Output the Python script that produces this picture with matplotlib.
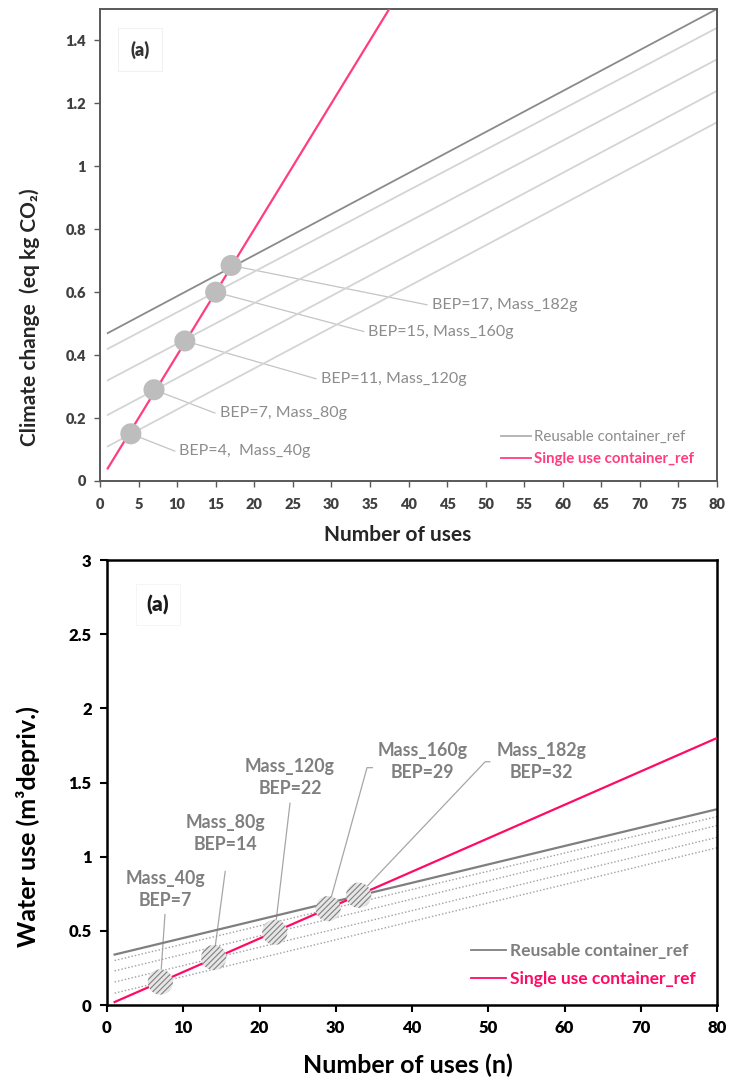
import numpy as np
import matplotlib
matplotlib.use("Agg")
import matplotlib.pyplot as plt

plt.rcParams['font.family'] = ['Lato', 'DejaVu Sans']
plt.rcParams['font.weight'] = 'bold'
plt.rcParams['hatch.linewidth'] = 0.8

# ---- data: climate change panel ----
n_ends = [1, 80]
cc_masses = ['182g', '160g', '120g', '80g', '40g']
cc_reuse_start = [0.47, 0.42, 0.32, 0.21, 0.11]
cc_reuse_end = [1.50, 1.44, 1.34, 1.24, 1.14]
cc_single = [0.04, 3.20]
cc_bep = [17, 15, 11, 7, 4]
cc_bep_val = [0.685, 0.60, 0.445, 0.29, 0.15]
cc_labels = ['BEP=17, Mass_182g', 'BEP=15, Mass_160g', 'BEP=11, Mass_120g',
             'BEP=7, Mass_80g', 'BEP=4,  Mass_40g']
cc_xticks = np.arange(0, 81, 5)
cc_yticks = [0, 0.2, 0.4, 0.6, 0.8, 1.0, 1.2, 1.4]
cc_yticklabels = ['0', '0.2', '0.4', '0.6', '0.8', '1', '1.2', '1.4']

# ---- data: water use panel ----
wu_masses = ['182g', '160g', '120g', '80g', '40g']
wu_reuse_start = [0.34, 0.30, 0.23, 0.155, 0.08]
wu_reuse_end = [1.32, 1.27, 1.21, 1.13, 1.06]
wu_single = [0.02, 1.80]
wu_bep = [33, 29, 22, 14, 7]
wu_bep_val = [0.74, 0.65, 0.49, 0.32, 0.155]
wu_labels = ['Mass_182g\nBEP=32', 'Mass_160g\nBEP=29', 'Mass_120g\nBEP=22',
             'Mass_80g\nBEP=14', 'Mass_40g\nBEP=7']
wu_xticks = np.arange(0, 81, 10)
wu_yticks = [0, 0.5, 1, 1.5, 2, 2.5, 3]
wu_yticklabels = ['0', '0.5', '1', '1.5', '2', '2.5', '3']

pink = '#ff3d80'
pink2 = '#ff0a64'

fig = plt.figure(figsize=(7.29, 10.84), dpi=100)

# ================= top panel =================
ax1 = fig.add_axes([100/729, 1-481/1084, 617/729, 472/1084])
for i in range(len(cc_masses)):
    col = '#8a8a8a' if i == 0 else '#d4d4d4'
    ax1.plot(n_ends, [cc_reuse_start[i], cc_reuse_end[i]], color=col, lw=1.3, zorder=2)
ax1.plot(n_ends, cc_single, color=pink, lw=1.6, zorder=3)
ax1.scatter(cc_bep, cc_bep_val, s=230, color='#bdbdbd', edgecolors='none', zorder=4)

# callout text start positions
cc_txt_pos = [(43.0, 0.56), (34.8, 0.475), (28.6, 0.325), (15.5, 0.216), (10.3, 0.095)]
for (tx, ty), bx, by, lab in zip(cc_txt_pos, cc_bep, cc_bep_val, cc_labels):
    ax1.plot([bx, tx - 0.6], [by, ty], color='#c4c4c4', lw=0.9, zorder=1)
    ax1.text(tx, ty, lab, color='#8c8c8c', fontsize=11.5, fontweight='normal',
             va='center', ha='left')

ax1.text(5.2, 1.371, '(a)', fontsize=13, fontweight='heavy', color='#333333',
         va='center', ha='center',
         bbox=dict(boxstyle='square,pad=0.7', fc='white', ec='#efefef', lw=0.6))

ax1.set_xlim(0, 80)
ax1.set_ylim(0, 1.5)
ax1.set_xticks(cc_xticks, [str(v) for v in cc_xticks], fontweight='heavy')
ax1.set_yticks(cc_yticks, cc_yticklabels, fontweight='heavy')
ax1.tick_params(direction='out', length=4, width=1, colors='#595959',
                labelsize=10.5, labelcolor='#404040')
ax1.tick_params(axis='x', pad=8)
ax1.tick_params(axis='y', pad=6)
for sp in ax1.spines.values():
    sp.set_color('#595959')
    sp.set_linewidth(1.4)
ax1.set_xlabel('Number of uses', fontsize=15, fontweight='bold', color='#262626')
ax1.xaxis.set_label_coords(0.483, -0.093)
ax1.set_ylabel('Climate change  (eq kg CO₂)', fontsize=15, fontweight='bold',
               color='#262626')
ax1.yaxis.set_label_coords(-0.098, 0.347)

h1, = ax1.plot([], [], color='#b0b0b0', lw=1.3)
h2, = ax1.plot([], [], color=pink, lw=1.3)
leg1 = ax1.legend([h1, h2], ['Reusable container_ref', 'Single use container_ref'],
                  loc='lower right', bbox_to_anchor=(0.985, 0.003), frameon=False,
                  fontsize=10.8, handlelength=2.0, handletextpad=0.2, labelspacing=0.55)
leg1.get_texts()[0].set_color('#8c8c8c')
leg1.get_texts()[0].set_fontweight('normal')
leg1.get_texts()[1].set_color(pink)

# ================= bottom panel =================
ax2 = fig.add_axes([107/729, 1-1005/1084, 610/729, 445/1084])
for i in range(len(wu_masses)):
    if i == 0:
        ax2.plot(n_ends, [wu_reuse_start[i], wu_reuse_end[i]], color='#7f7f7f', lw=1.6, zorder=2)
    else:
        ax2.plot(n_ends, [wu_reuse_start[i], wu_reuse_end[i]], color='#a0a0a0', lw=1.0,
                 ls=(0, (1, 1.5)), zorder=2)
ax2.plot(n_ends, wu_single, color=pink2, lw=1.6, zorder=3)
ax2.scatter(wu_bep, wu_bep_val, s=330, facecolor='#e6e6e6', edgecolors='#808080',
            linewidths=0, hatch='//////', zorder=4)

# callout text centres and leader start points
wu_txt_pos = [(57.0, 1.642), (41.4, 1.642), (24.0, 1.534), (15.5, 1.156), (7.6, 0.779)]
wu_lead = [[(50.2, 1.64), (49.6, 1.64)], [(34.8, 1.60), (34.1, 1.60)],
           [(24.0, 1.36)], [(15.5, 0.90)], [(7.6, 0.61)]]
for (tx, ty), pts, bx, by, lab in zip(wu_txt_pos, wu_lead, wu_bep, wu_bep_val, wu_labels):
    xs = [p[0] for p in pts] + [bx]
    ys = [p[1] for p in pts] + [by]
    ax2.plot(xs, ys, color='#a6a6a6', lw=0.9, zorder=1)
    ax2.text(tx, ty, lab, color='#7f7f7f', fontsize=12.8, fontweight='bold',
             va='center', ha='center', linespacing=1.4)

ax2.text(6.7, 2.70, '(a)', fontsize=15, fontweight='heavy', color='#1a1a1a',
         va='center', ha='center',
         bbox=dict(boxstyle='square,pad=0.5', fc='white', ec='#f4f4f4', lw=0.6))

ax2.set_xlim(0, 80)
ax2.set_ylim(0, 3)
ax2.set_xticks(wu_xticks, [str(v) for v in wu_xticks], fontweight='heavy')
ax2.set_yticks(wu_yticks, wu_yticklabels, fontweight='heavy')
ax2.tick_params(direction='out', length=5, width=1.5, colors='black',
                labelsize=12, pad=6)
for sp in ax2.spines.values():
    sp.set_color('black')
    sp.set_linewidth(1.8)
ax2.set_xlabel('Number of uses (n)', fontsize=18, fontweight='bold', color='black')
ax2.xaxis.set_label_coords(0.493, -0.11)
ax2.set_ylabel('Water use (m³depriv.)', fontsize=18, fontweight='bold',
               color='black')
ax2.yaxis.set_label_coords(-0.11, 0.40)

g1, = ax2.plot([], [], color='#7f7f7f', lw=1.3)
g2, = ax2.plot([], [], color=pink2, lw=1.3)
leg2 = ax2.legend([g1, g2], ['Reusable container_ref', 'Single use container_ref'],
                  loc='lower right', bbox_to_anchor=(0.99, 0.005), frameon=False,
                  fontsize=12.5, handlelength=2.0, handletextpad=0.2, labelspacing=0.7)
leg2.get_texts()[0].set_color('#7f7f7f')
leg2.get_texts()[1].set_color(pink2)

fig.savefig('out.png', dpi=100)
